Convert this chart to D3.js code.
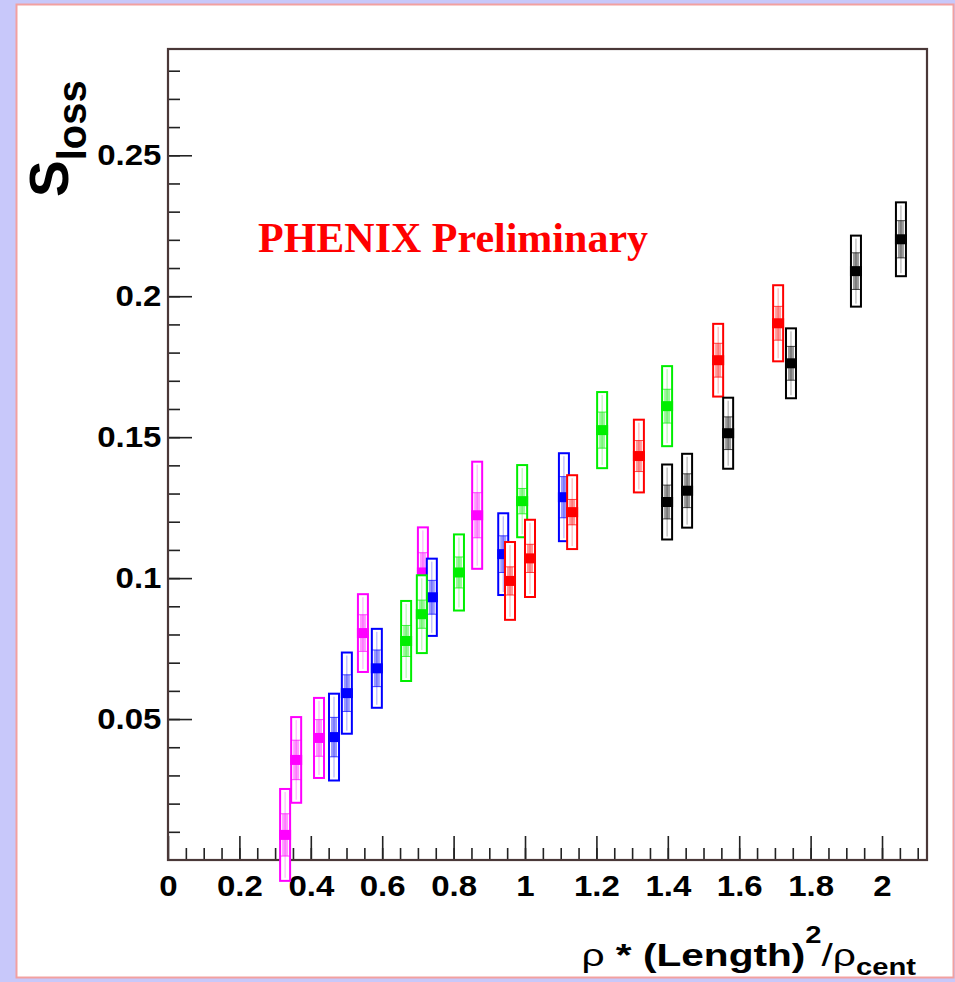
<!DOCTYPE html>
<html>
<head>
<meta charset="utf-8">
<script src="https://cdn.jsdelivr.net/npm/d3@7"></script>
<style>
  html, body { margin: 0; padding: 0; background: #c8c8fa; }
  svg { display: block; }
</style>
</head>
<body>
<div id="chart"></div>
<script>
// Values: x position, S_loss, systematic and statistical half-widths
const magentaX = [0.328, 0.359, 0.423, 0.546, 0.714, 0.866];
const magentaY = [0.0089, 0.0355, 0.0433, 0.0805, 0.102, 0.1223];
const magentaSys = [0.0163, 0.0152, 0.0142, 0.0138, 0.016, 0.019];
const magentaStat = [0.0075, 0.007, 0.0065, 0.0065, 0.007, 0.008];

const blueX = [0.465, 0.501, 0.585, 0.739, 0.939, 1.109];
const blueY = [0.0436, 0.0592, 0.068, 0.0932, 0.1085, 0.1287];
const blueSys = [0.0154, 0.0144, 0.014, 0.0137, 0.0145, 0.0156];
const blueStat = [0.007, 0.0065, 0.0065, 0.006, 0.0065, 0.0073];

const greenX = [0.667, 0.711, 0.815, 0.992, 1.216, 1.398];
const greenY = [0.0777, 0.0872, 0.102, 0.1273, 0.1525, 0.161];
const greenSys = [0.0142, 0.0138, 0.0135, 0.0128, 0.0135, 0.0142];
const greenStat = [0.0055, 0.005, 0.0055, 0.0045, 0.0064, 0.006];

const redX = [0.958, 1.014, 1.132, 1.319, 1.541, 1.709];
const redY = [0.099, 0.107, 0.1234, 0.1433, 0.1773, 0.1904];
const redSys = [0.0138, 0.0137, 0.0131, 0.0129, 0.0129, 0.0135];
const redStat = [0.005, 0.005, 0.0045, 0.0055, 0.006, 0.006];

const blackX = [1.398, 1.454, 1.569, 1.745, 1.927, 2.053];
const blackY = [0.127, 0.131, 0.1514, 0.1762, 0.2089, 0.2202];
const blackSys = [0.0133, 0.0131, 0.0126, 0.0124, 0.0126, 0.0131];
const blackStat = [0.006, 0.006, 0.0058, 0.006, 0.0065, 0.0066];

const xTickValues = [0, 0.2, 0.4, 0.6, 0.8, 1, 1.2, 1.4, 1.6, 1.8, 2];
const xTickLabels = ['0', '0.2', '0.4', '0.6', '0.8', '1', '1.2', '1.4', '1.6', '1.8', '2'];
const yTickValues = [0.05, 0.1, 0.15, 0.2, 0.25];
const yTickLabels = ['0.05', '0.1', '0.15', '0.2', '0.25'];

const series = [
  { color: '#ff00ff', xs: magentaX, ys: magentaY, sys: magentaSys, stat: magentaStat },
  { color: '#0000ff', xs: blueX, ys: blueY, sys: blueSys, stat: blueStat },
  { color: '#00ee00', xs: greenX, ys: greenY, sys: greenSys, stat: greenStat },
  { color: '#ff0000', xs: redX, ys: redY, sys: redSys, stat: redStat },
  { color: '#000000', xs: blackX, ys: blackY, sys: blackSys, stat: blackStat },
];

const W = 955, H = 982;
const frame = { left: 168, top: 49, right: 927, bottom: 860 };
const sans = '"Liberation Sans", Arial, Helvetica, sans-serif';

const svg = d3.select('#chart').append('svg')
  .attr('width', W)
  .attr('height', H);

// lavender page + white pad
svg.append('rect').attr('width', W).attr('height', H).attr('fill', '#c8c8fa');
svg.append('rect')
  .attr('x', 16.5).attr('y', 4.5)
  .attr('width', 937).attr('height', 973)
  .attr('fill', '#ffffff')
  .attr('stroke', '#f2a0a0')
  .attr('stroke-width', 2);

const x = d3.scaleLinear().domain([0, 2.126]).range([frame.left, frame.right]);
const y = d3.scaleLinear().domain([0, 0.2877]).range([frame.bottom, frame.top]);

// minor ticks
const xAxisG = svg.append('g').attr('transform', `translate(0,${frame.bottom})`);
xAxisG.append('g')
  .call(d3.axisBottom(x).tickValues(d3.range(0.05, 2.126, 0.05)).tickSize(-12).tickFormat(''));
xAxisG.append('g')
  .call(d3.axisBottom(x).tickValues(xTickValues).tickSize(-24).tickPadding(15)
    .tickFormat((d, i) => xTickLabels[i]));

const yAxisG = svg.append('g').attr('transform', `translate(${frame.left},0)`);
yAxisG.append('g')
  .call(d3.axisLeft(y).tickValues(d3.range(0.01, 0.285, 0.01)).tickSize(-12).tickFormat(''));
yAxisG.append('g')
  .call(d3.axisLeft(y).tickValues(yTickValues).tickSize(-24).tickPadding(6)
    .tickFormat((d, i) => yTickLabels[i]));

svg.selectAll('.domain').remove();
svg.selectAll('.tick line').attr('stroke', '#222').attr('stroke-width', 1.6);
svg.selectAll('.tick text')
  .attr('fill', '#000')
  .attr('transform', 'scale(1.1,1)')
  .style('font-family', sans)
  .style('font-weight', 'bold')
  .style('font-size', '30px');

// frame
svg.append('rect')
  .attr('x', frame.left).attr('y', frame.top)
  .attr('width', frame.right - frame.left).attr('height', frame.bottom - frame.top)
  .attr('fill', 'none')
  .attr('stroke', '#4a3838')
  .attr('stroke-width', 2.2);

// data: systematic box, statistical band with caps, marker
series.forEach(s => {
  const g = svg.append('g');
  s.xs.forEach((xv, i) => {
    const cx = x(xv), yv = s.ys[i];
    const top = y(yv + s.sys[i]), bot = y(yv - s.sys[i]);
    const st = y(yv + s.stat[i]), sb = y(yv - s.stat[i]);
    g.append('rect')
      .attr('x', cx - 5).attr('y', top)
      .attr('width', 10).attr('height', bot - top)
      .attr('fill', '#fff')
      .attr('stroke', s.color)
      .attr('stroke-width', 2);
    g.append('rect')
      .attr('x', cx - 3).attr('y', st)
      .attr('width', 6).attr('height', sb - st)
      .attr('fill', s.color)
      .attr('fill-opacity', 0.4);
    g.append('line')
      .attr('x1', cx).attr('x2', cx).attr('y1', top + 3).attr('y2', bot - 3)
      .attr('stroke', s.color).attr('stroke-opacity', 0.35).attr('stroke-width', 1);
    [st, sb].forEach(cy => {
      g.append('line')
        .attr('x1', cx - 5).attr('x2', cx + 5).attr('y1', cy).attr('y2', cy)
        .attr('stroke', s.color).attr('stroke-opacity', 0.7).attr('stroke-width', 1);
    });
    g.append('rect')
      .attr('x', cx - 6).attr('y', y(yv) - 5)
      .attr('width', 12).attr('height', 10)
      .attr('fill', s.color);
  });
});

// PHENIX Preliminary
svg.append('text')
  .attr('x', 258).attr('y', 252)
  .attr('fill', '#ff0000')
  .style('font-family', '"Liberation Serif", "Times New Roman", serif')
  .style('font-weight', 'bold')
  .style('font-size', '42px')
  .text('PHENIX Preliminary');

// y axis title
const yt = svg.append('text')
  .attr('transform', 'translate(68,197) rotate(-90)')
  .style('font-family', sans)
  .style('font-weight', 'bold')
  .attr('fill', '#000');
yt.append('tspan').style('font-size', '55px').text('S');
yt.append('tspan').attr('dy', 18).style('font-size', '40px').text('loss');

// x axis title, stretched horizontally like the original raster
const xt = svg.append('text')
  .attr('transform', 'translate(916,966) scale(1.27,1)')
  .attr('text-anchor', 'end')
  .style('font-family', sans)
  .style('font-size', '32px')
  .attr('fill', '#000');
xt.append('tspan').style('font-weight', 'normal').text('ρ ');
xt.append('tspan').style('font-weight', 'bold').text('* (Length)');
xt.append('tspan').attr('dy', -23).style('font-weight', 'bold').style('font-size', '23px').text('2');
xt.append('tspan').attr('dy', 23).style('font-weight', 'normal').text('/ρ');
xt.append('tspan').attr('dy', 9).style('font-weight', 'bold').style('font-size', '23px').text('cent');
</script>
</body>
</html>
